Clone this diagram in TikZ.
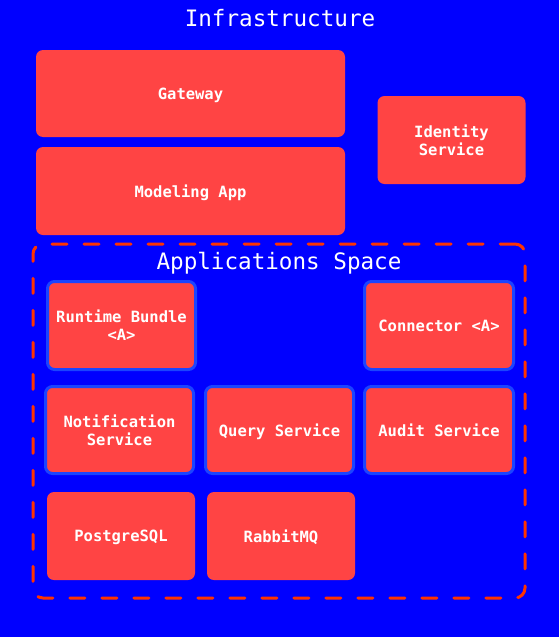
\documentclass[tikz,border=0pt]{standalone}
\usepackage{fontspec}
\setmonofont{DejaVu Sans Mono}
\definecolor{bgblue}{HTML}{0000FF}
\definecolor{boxred}{HTML}{FF4444}
\definecolor{edgeblue}{HTML}{1A44FF}
\definecolor{dashred}{HTML}{FF3300}
\tikzset{
  box/.style={fill=boxred,rounded corners=7pt,text=white,align=center,inner sep=0pt,text depth=0pt,
    font=\ttfamily\bfseries\fontsize{15.5}{18}\selectfont},
  ringbox/.style={box,draw=edgeblue,line width=3pt},
  title/.style={text=white,font=\ttfamily\fontsize{22.6}{26}\selectfont}
}
\begin{document}
\begin{tikzpicture}[x=1pt,y=-1pt]
	    \fill[bgblue](0,0) rectangle (559,637);
	    \useasboundingbox (0,0) rectangle (559,637);
	    \node[title] (infra) at (280,18) {Infrastructure};
	    \node[box,minimum width=309pt,minimum height=87pt] (gateway) at (190.5,93.5) {Gateway};
	    \node[box,minimum width=309pt,minimum height=88pt] (modeling) at (190.5,191) {Modeling App};
	    \node[box,minimum width=148pt,minimum height=88pt] (identity) at (451.5,140) {Identity\\Service};
	    % applications space
	    \node[draw=dashred,line width=3pt,dash pattern=on 15pt off 17pt,line cap=round,rounded corners=10pt,
	          minimum width=492pt,minimum height=354pt] (space) at (279,421) {};
	    \node[title] (spacetitle) at (279,263) {Applications Space};
	    \node[ringbox,minimum width=148pt,minimum height=88pt] (runtime) at (121.5,325.5) {Runtime Bundle\\<A>};
	    \node[ringbox,minimum width=149pt,minimum height=88pt] (connector) at (439,325.5) {Connector <A>};
	    \node[ringbox,minimum width=148pt,minimum height=87pt] (notification) at (119.5,430) {Notification\\Service};
	    \node[ringbox,minimum width=148pt,minimum height=87pt] (query) at (279.5,430) {Query Service};
	    \node[ringbox,minimum width=149pt,minimum height=87pt] (audit) at (439,430) {Audit Service};
	    \node[box,minimum width=148pt,minimum height=88pt] (postgres) at (121,536) {PostgreSQL};
	    \node[box,minimum width=148pt,minimum height=88pt] (rabbit) at (281,536) {RabbitMQ};
\end{tikzpicture}
\end{document}
